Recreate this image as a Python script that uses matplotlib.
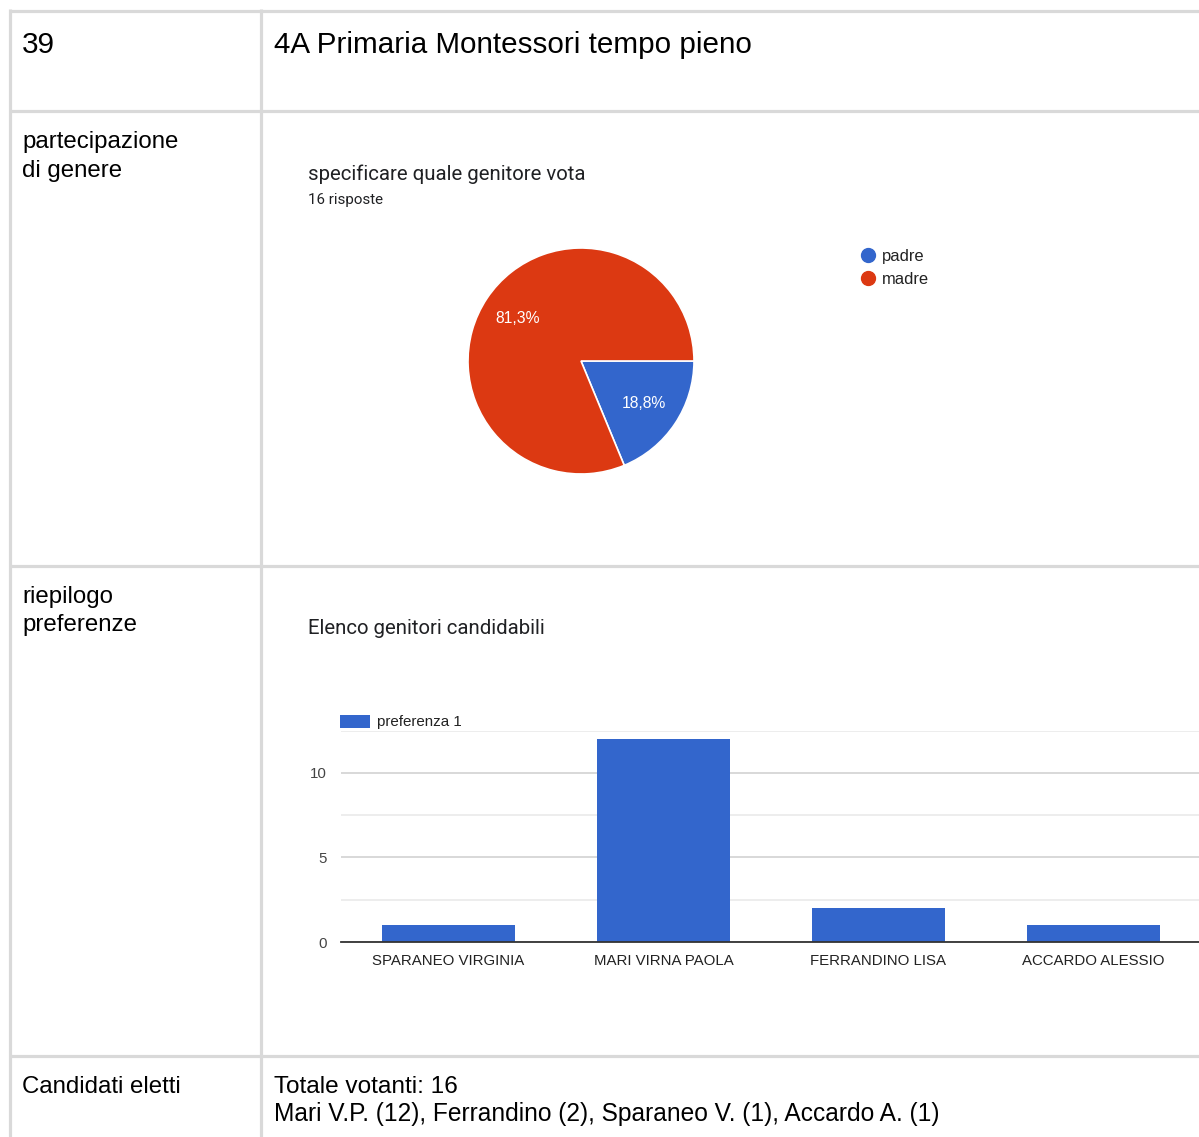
import matplotlib
matplotlib.use("Agg")
import matplotlib.pyplot as plt
from matplotlib.lines import Line2D

W, H = 1199, 1137

# data
pie_labels = ["padre", "madre"]
pie_counts = [3, 13]
pie_colors = ["#3366cc", "#dc3912"]

candidates = ["SPARANEO VIRGINIA", "MARI VIRNA PAOLA", "FERRANDINO LISA", "ACCARDO ALESSIO"]
votes = [1, 12, 2, 1]
series_name = "preferenza 1"

row_titles = ["partecipazione\ndi genere", "riepilogo\npreferenze", "Candidati eletti"]
summary_lines = ["Totale votanti: 16",
                 "Mari V.P. (12), Ferrandino (2), Sparaneo V. (1), Accardo A. (1)"]

TABLE_FONT = "Liberation Sans"
CHART_FONT = "Roboto"


def fx(x):
    return x / W


def fy(y):
    return 1 - y / H


def rect(x0, y0, x1, y1):
    return [fx(x0), fy(y1), (x1 - x0) / W, (y1 - y0) / H]


def pct(p):
    # round half up like Google Forms does
    return f"{int(p * 10 + 0.5 + 1e-9) / 10:.1f}%".replace(".", ",")


fig = plt.figure(figsize=(W / 100, H / 100), dpi=100)

# table grid
grid_kw = dict(color="#d9d9d9", linewidth=2.3, transform=fig.transFigure, solid_capstyle="butt")
for y in [10.5, 110.5, 565.5, 1055.5]:
    fig.add_artist(Line2D([fx(8.5), 1], [fy(y), fy(y)], **grid_kw))
for x in [9.5, 261]:
    fig.add_artist(Line2D([fx(x), fx(x)], [fy(9), 0], **grid_kw))

# table text
fig.text(fx(22), fy(45), "39", fontsize=21.3, family=TABLE_FONT, va="center", color="#000")
fig.text(fx(274), fy(45), "4A Primaria Montessori tempo pieno", fontsize=21.3,
         family=TABLE_FONT, va="center", color="#000")
fig.text(fx(22), fy(142), row_titles[0].split("\n")[0], fontsize=17.3, family=TABLE_FONT,
         va="center", color="#000")
fig.text(fx(22), fy(171), row_titles[0].split("\n")[1], fontsize=17.3, family=TABLE_FONT,
         va="center", color="#000")
fig.text(fx(22), fy(597), row_titles[1].split("\n")[0], fontsize=17.3, family=TABLE_FONT,
         va="center", color="#000")
fig.text(fx(22), fy(625), row_titles[1].split("\n")[1], fontsize=17.3, family=TABLE_FONT,
         va="center", color="#000")
fig.text(fx(22), fy(1087), row_titles[2], fontsize=17.3, family=TABLE_FONT, va="center", color="#000")
fig.text(fx(274), fy(1087), summary_lines[0], fontsize=17.6, family=TABLE_FONT, va="center", color="#000")
fig.text(fx(274), fy(1114), summary_lines[1], fontsize=17.65, family=TABLE_FONT, va="center", color="#000")

# pie chart
fig.text(fx(308), fy(174), "specificare quale genitore vota", fontsize=14.7, family=CHART_FONT,
         va="center", color="#202124")
fig.text(fx(308), fy(200), "16 risposte", fontsize=10.9, family=CHART_FONT, va="center", color="#202124")

ax_pie = fig.add_axes(rect(468, 248, 694, 474))
wedges, _, autotexts = ax_pie.pie(
    pie_counts, colors=pie_colors, startangle=0, counterclock=False,
    autopct=pct, pctdistance=0.67,
    wedgeprops=dict(edgecolor="white", linewidth=1.2),
    textprops=dict(color="white", fontsize=11.3, family=TABLE_FONT))
ax_pie.set_xlim(-1.0, 1.0)
ax_pie.set_ylim(-1.0, 1.0)
ax_pie.set_aspect("equal")

handles = [Line2D([], [], marker="o", linestyle="none", markersize=10,
                  markerfacecolor=c, markeredgecolor=c) for c in pie_colors]
fig.legend(handles, pie_labels, loc="center left", bbox_to_anchor=(fx(861), fy(268)),
           frameon=False, handlelength=0.9, handletextpad=0.35,
           labelspacing=0.5, borderpad=0, borderaxespad=0,
           prop=dict(family=TABLE_FONT, size=11.9), labelcolor="#222")

# bar chart
fig.text(fx(308), fy(628), "Elenco genitori candidabili", fontsize=14.7, family=CHART_FONT,
         va="center", color="#202124")

ax_bar = fig.add_axes(rect(341, 731, 1201, 942))
ax_bar.bar(range(len(candidates)), votes, width=0.615, color="#3366cc", label=series_name, zorder=3)
ax_bar.set_xlim(-0.5, 3.5)
ax_bar.set_ylim(0, 12.45)
ax_bar.set_yticks([0, 5, 10])
ax_bar.set_yticks([2.5, 7.5, 12.45], minor=True)
ax_bar.set_xticks(range(len(candidates)))
ax_bar.set_xticklabels(candidates)
ax_bar.yaxis.grid(True, which="major", color="#d6d6d6", linewidth=1.3)
ax_bar.yaxis.grid(True, which="minor", color="#ececec", linewidth=1.3)
ax_bar.set_axisbelow(True)
for s in ["top", "right", "left"]:
    ax_bar.spines[s].set_visible(False)
ax_bar.spines["bottom"].set_color("#333333")
ax_bar.spines["bottom"].set_linewidth(1.3)
ax_bar.spines["bottom"].set_zorder(4)
ax_bar.tick_params(axis="both", which="both", length=0, colors="#222", labelsize=10.85)
ax_bar.tick_params(axis="y", pad=10.5, labelcolor="#444")
ax_bar.tick_params(axis="x", pad=8.5)
for lbl in ax_bar.get_xticklabels() + ax_bar.get_yticklabels():
    lbl.set_family(TABLE_FONT)
ax_bar.legend(loc="lower left", bbox_to_anchor=(-0.0025, 1.0), frameon=False,
              handlelength=1.95, handleheight=0.9, handletextpad=0.5,
              borderpad=0, borderaxespad=0.1, prop=dict(family=TABLE_FONT, size=10.9),
              labelcolor="#222")

fig.savefig("out.png", dpi=100)
